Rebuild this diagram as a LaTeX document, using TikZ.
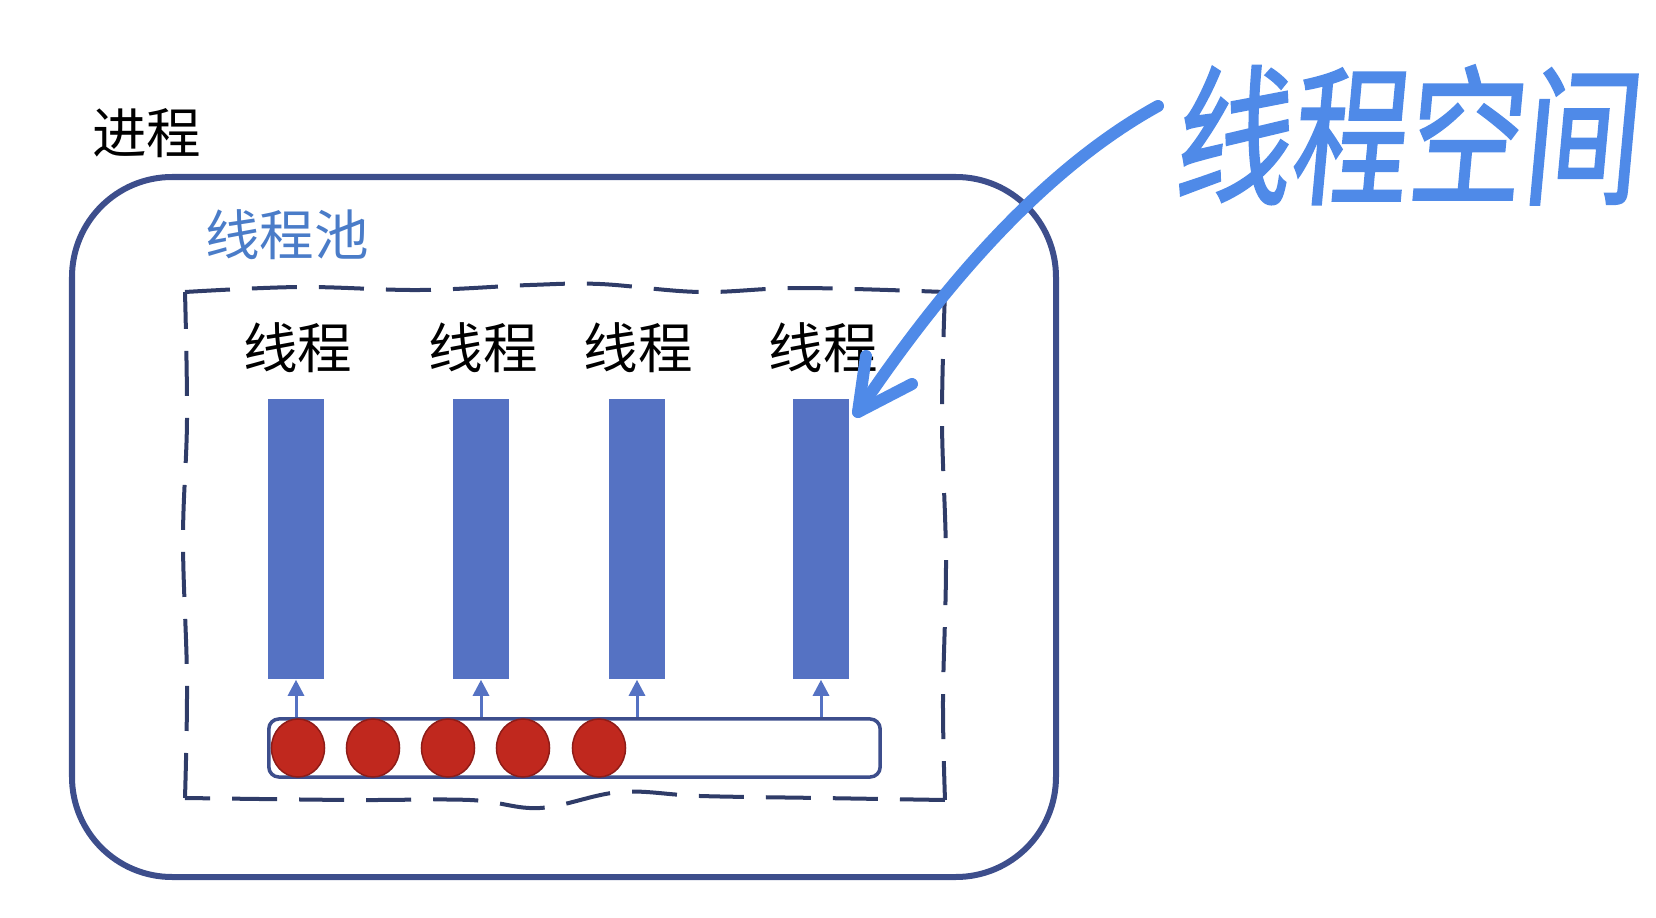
\documentclass[tikz,border=0pt]{standalone}
\usepackage{fontspec}
\setmainfont{Noto Sans CJK SC}
\newfontfamily\handfont[FakeSlant=0.12,FakeBold=1.5]{Noto Sans CJK SC}
\usetikzlibrary{shapes.geometric,arrows.meta}
\definecolor{navy}{HTML}{3D4E8C}
\definecolor{dashc}{HTML}{2F3C68}
\definecolor{barblue}{HTML}{5572C3}
\definecolor{pooltext}{HTML}{4A7CC8}
\definecolor{ballred}{HTML}{C0281E}
\definecolor{ballline}{HTML}{8E1C18}
\definecolor{handblue}{HTML}{4F8AE8}
\tikzset{
  bar/.style={draw=none,fill=barblue,minimum width=5.6mm,minimum height=28mm,inner sep=0pt},
  ball/.style={ellipse,fill=ballred,draw=ballline,line width=0.15mm,minimum width=5.3mm,minimum height=5.8mm,inner sep=0pt},
  queue/.style={draw=navy,line width=0.35mm,rounded corners=1mm,fill=white,minimum width=61.1mm,minimum height=5.8mm,inner sep=0pt},
  tlabel/.style={font=\fontsize{15.5}{18}\selectfont,text=black,inner sep=0pt},
  feed/.style={draw=barblue,line width=0.3mm,-{Triangle[length=1.6mm,width=1.6mm]}},
  poolline/.style={draw=dashc,line width=0.4mm,dash pattern=on 4.5mm off 2.2mm},
  hand/.style={draw=handblue,line width=1.2mm,line cap=round,line join=round}
}
\begin{document}
\begin{tikzpicture}[x=0.01cm,y=-0.01cm]
\useasboundingbox (0,0) rectangle (1656,918);
% process box
\draw[navy,line width=0.6mm,rounded corners=10mm] (72,177) rectangle (1056,877);
\node[tlabel,anchor=center] (proc) at (147,133) {进程};
\node[tlabel,text=pooltext,anchor=center] (pool) at (287,235) {线程池};
% dashed pool boundary (slightly wavy)
\draw[poolline] plot[smooth,tension=0.6] coordinates {(185,292) (300,287) (420,290) (530,285) (600,284) (700,292) (800,288) (945,292)};
\draw[poolline] plot[smooth,tension=0.6] coordinates {(945,292) (942,420) (946,560) (943,700) (945,800)};
\draw[poolline] plot[smooth,tension=0.6] coordinates {(945,800) (820,798) (700,796) (620,792) (540,808) (470,800) (350,800) (185,798)};
\draw[poolline] plot[smooth,tension=0.6] coordinates {(185,798) (187,680) (183,540) (187,420) (185,292)};
% threads
\node[bar] (b1) at (296,539) {};
\node[bar] (b2) at (481,539) {};
\node[bar] (b3) at (637,539) {};
\node[bar] (b4) at (821,539) {};
\node[tlabel] (t1) at (298,348) {线程};
\node[tlabel] (t2) at (483,348) {线程};
\node[tlabel] (t3) at (638,348) {线程};
\node[tlabel] (t4) at (823,348) {线程};
% task queue
\node[queue] (q) at (574.5,748) {};
\node[ball] (c1) at (298,748) {};
\node[ball] (c2) at (373,748) {};
\node[ball] (c3) at (448,748) {};
\node[ball] (c4) at (523,748) {};
\node[ball] (c5) at (599,748) {};
\draw[feed] (q.north -| b1.south) -- (b1.south);
\draw[feed] (q.north -| b2.south) -- (b2.south);
\draw[feed] (q.north -| b3.south) -- (b3.south);
\draw[feed] (q.north -| b4.south) -- (b4.south);
% handwritten annotation
\node[font=\handfont\fontsize{33}{38}\selectfont,text=handblue,inner sep=0pt] (note) at (1405,135) {\scalebox{1}[1.3]{线程空间}};
\coordinate (tip) at (858,412);
\coordinate (hstart) at (1158,106);
\draw[hand] (hstart) .. controls (1060,160) and (960,260) .. (tip);
\draw[hand] (866,356) -- (tip) -- (912,384);
\end{tikzpicture}
\end{document}
